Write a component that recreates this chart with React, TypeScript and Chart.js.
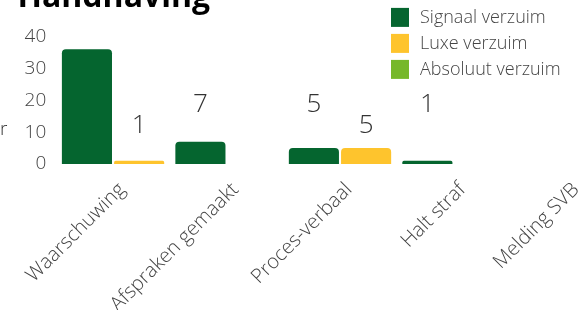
import React, { useEffect, useRef } from "react";
import { Chart, registerables } from "chart.js";

Chart.register(...registerables);

const titleText = "Handhaving";
const yAxisText = "Aantal keer";
const categories = ["Waarschuwing", "Afspraken gemaakt", "Proces-verbaal", "Halt straf", "Melding SVB"];
const seriesNames = ["Signaal verzuim", "Luxe verzuim", "Absoluut verzuim"];
const signaalVerzuim = [36, 7, 5, 1, 0];
const luxeVerzuim = [1, 0, 5, 0, 0];
const absoluutVerzuim: (number | null)[] = [null, null, null, null, null];
const seriesColors = ["#05652F", "#FEC42D", "#76B82A"];
const yMin = 0;
const yMax = 40;
const yStep = 10;

const FONT = "'Open Sans', sans-serif";
const CANVAS_W = 640;
const CANVAS_H = 340;
const CANVAS_TOP = -30;

const overlayPlugin = {
  id: "overlay",
  afterDraw(chart: any) {
    const ctx = chart.ctx;
    const area = chart.chartArea;
    ctx.save();
    // value labels
    const labelOffsets = [68.5, 89.5];
    ctx.font = `300 26px ${FONT}`;
    ctx.fillStyle = "#333333";
    ctx.textAlign = "center";
    ctx.textBaseline = "middle";
    [0, 1].forEach((di) => {
      const meta = chart.getDatasetMeta(di);
      const data = chart.data.datasets[di].data;
      meta.data.forEach((bar: any, i: number) => {
        const v = data[i];
        if (v == null || v <= 0) return;
        const y = area.top + labelOffsets[di];
        if (y + 13 > bar.y) return;
        ctx.fillText(String(v), bar.x, y);
      });
    });
    // legend
    const lx = area.left + 334.7;
    const ly = area.top - 28.5;
    ctx.font = `300 18px ${FONT}`;
    ctx.textAlign = "left";
    ctx.textBaseline = "middle";
    seriesNames.forEach((name, i) => {
      const y = ly + i * 26;
      ctx.fillStyle = seriesColors[i];
      ctx.fillRect(lx, y, 18, 19);
      ctx.fillStyle = "#444444";
      ctx.fillText(name, lx + 29, y + 9.5);
    });
    // y-axis caption (mostly outside the visible area)
    const ys = chart.scales.y;
    ctx.font = `300 19px ${FONT}`;
    ctx.fillStyle = "#333333";
    ctx.textAlign = "right";
    ctx.fillText(yAxisText, ys.left - 10, area.top + 93.5);
    ctx.restore();
  },
};

export default function App() {
  const ref = useRef<HTMLCanvasElement | null>(null);
  useEffect(() => {
    if (!ref.current) return;
    const chart = new Chart(ref.current, {
      type: "bar",
      data: {
        labels: categories,
        datasets: [
          { label: seriesNames[0], data: signaalVerzuim, backgroundColor: seriesColors[0] },
          { label: seriesNames[1], data: luxeVerzuim, backgroundColor: seriesColors[1] },
          { label: seriesNames[2], data: absoluutVerzuim, backgroundColor: seriesColors[2] },
        ].map((d) => ({
          ...d,
          borderWidth: 0,
          borderRadius: 4,
          categoryPercentage: 0.92,
          barPercentage: 0.96,
          skipNull: true,
        })) as any,
      },
      options: {
        responsive: false,
        animation: false,
        devicePixelRatio: 1,
        layout: { padding: { top: 0, left: 17.5, right: 16.3, bottom: 0 } },
        plugins: {
          legend: { display: false },
          tooltip: { enabled: false },
          title: {
            display: true,
            text: titleText,
            align: "start",
            color: "#000000",
            font: { family: FONT, size: 32, weight: "bold" },
            padding: { top: 9, bottom: 19 },
          },
        },
        scales: {
          x: {
            grid: { display: false, drawTicks: false },
            border: { display: false },
            ticks: {
              color: "#444444",
              font: { family: FONT, size: 20, weight: 300 },
              maxRotation: 45,
              minRotation: 45,
              autoSkip: false,
              padding: 14,
              labelOffset: 9,
            },
            afterFit: (s: any) => {
              s.height = CANVAS_H - 194;
              s.paddingLeft = 0;
              s.paddingRight = 0;
            },
          },
          y: {
            min: yMin,
            max: yMax,
            grid: { display: false, drawTicks: false },
            border: { display: false },
            ticks: {
              stepSize: yStep,
              color: "#444444",
              font: { family: FONT, size: 19, weight: 300 },
              padding: 10,
            },
            afterFit: (s: any) => {
              s.width = 38.8;
            },
          },
        },
      },
      plugins: [overlayPlugin],
    } as any);
    return () => chart.destroy();
  }, []);
  return (
    <div style={{ position: "fixed", left: 0, top: 0, width: 580, height: 316, overflow: "hidden", background: "#fff" }}>
      <canvas
        ref={ref}
        width={CANVAS_W}
        height={CANVAS_H}
        style={{ position: "absolute", left: 0, top: CANVAS_TOP, width: CANVAS_W, height: CANVAS_H }}
      />
    </div>
  );
}
